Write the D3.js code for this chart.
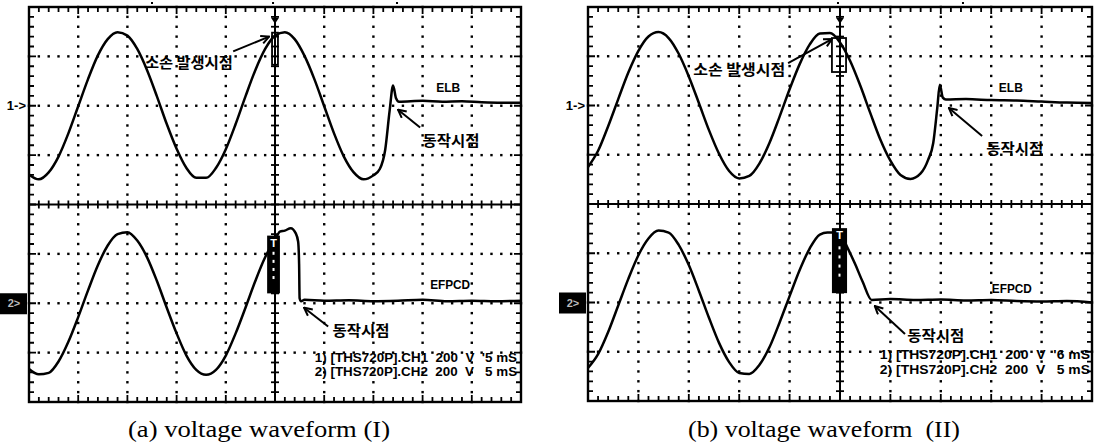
<!DOCTYPE html>
<html>
<head>
<meta charset="utf-8">
<title>voltage waveform (I) / (II)</title>
<script src="https://cdn.jsdelivr.net/npm/d3@7"></script>
<style>
  body { margin: 0; background: #fff; }
</style>
</head>
<body>
<div id="chart"></div>
<script>
// traces are [time (div), level (div)], screen is 10 x 8 div, centre = 0
// panel (a) - CH1 (ELB), CH2 (EFPCD)
var aCh1 = [[0,0.61],[0.2,0.51],[0.4,0.65],[0.6,0.97],[0.8,1.44],[1.0,1.99],[1.2,2.54],[1.4,3.02],[1.6,3.35],[1.8,3.49],
  [2.0,3.42],[2.2,3.15],[2.4,2.72],[2.6,2.19],[2.8,1.63],[3.0,1.13],[3.2,0.74],[3.4,0.54],[3.6,0.54],[3.8,0.74],
  [4.0,1.12],[4.2,1.63],[4.4,2.19],[4.6,2.72],[4.8,3.15],[5.0,3.42],[5.2,3.49],[5.4,3.35],[5.6,3.01],[5.8,2.54],
  [6.0,1.99],[6.2,1.44],[6.4,0.97],[6.6,0.65],[6.8,0.51],[7.0,0.59],[7.13,0.72],[7.24,1.11],[7.33,1.9],[7.40,2.41],
  [7.46,2.15],[7.52,2.08],[8.0,2.1],[8.4,2.08],[8.8,2.09],[9.2,2.07],[9.6,2.06],[10,2.06]];
var aCh2 = [[0,-3.33],[0.2,-3.44],[0.4,-3.41],[0.6,-3.18],[0.8,-2.78],[1.0,-2.28],[1.2,-1.74],[1.4,-1.23],[1.6,-0.83],[1.8,-0.6],
  [2.0,-0.56],[2.2,-0.73],[2.4,-1.07],[2.6,-1.55],[2.8,-2.09],[3.0,-2.61],[3.2,-3.06],[3.4,-3.35],[3.6,-3.45],[3.8,-3.35],
  [4.0,-3.06],[4.2,-2.61],[4.4,-2.09],[4.6,-1.55],[4.8,-1.07],[4.9,-0.88],[5.0,-0.73],[5.1,-0.55],[5.2,-0.53],[5.32,-0.48],
  [5.42,-0.58],[5.47,-0.75],[5.49,-1.2],[5.50,-1.9],[5.53,-1.96],[5.6,-1.93],[6.0,-1.95],[6.5,-1.94],[7.0,-1.96],[7.5,-1.95],
  [8.0,-1.93],[8.5,-1.96],[9.0,-1.95],[9.5,-1.96],[10,-1.95]];
// panel (b)
var bCh1 = [[0,0.75],[0.2,1.08],[0.4,1.58],[0.6,2.13],[0.8,2.67],[1.0,3.11],[1.2,3.40],[1.4,3.49],[1.6,3.37],[1.8,3.05],
  [2.0,2.59],[2.2,2.05],[2.4,1.50],[2.6,1.02],[2.8,0.67],[3.0,0.52],[3.2,0.57],[3.4,0.82],[3.6,1.24],[3.8,1.77],
  [4.0,2.33],[4.2,2.84],[4.4,3.24],[4.6,3.46],[4.8,3.47],[5.0,3.28],[5.2,2.91],[5.4,2.41],[5.6,1.85],[5.8,1.31],
  [6.0,0.88],[6.2,0.59],[6.4,0.51],[6.6,0.62],[6.75,0.9],[6.85,1.24],[6.93,1.95],[6.98,2.42],[7.04,2.16],[7.1,2.12],
  [7.5,2.13],[8.0,2.11],[8.5,2.1],[9.0,2.08],[9.5,2.06],[10,2.05]];
var bCh2 = [[0,-3.33],[0.2,-3.05],[0.4,-2.6],[0.6,-2.06],[0.8,-1.52],[1.0,-1.04],[1.2,-0.70],[1.4,-0.54],[1.6,-0.58],[1.8,-0.83],
  [2.0,-1.24],[2.2,-1.76],[2.4,-2.31],[2.6,-2.82],[2.8,-3.21],[3.0,-3.43],[3.2,-3.45],[3.4,-3.27],[3.6,-2.91],[3.8,-2.41],
  [4.0,-1.87],[4.2,-1.34],[4.4,-0.90],[4.6,-0.62],[4.75,-0.58],[4.9,-0.58],[5.0,-0.6],[5.14,-0.87],[5.3,-1.22],[5.45,-1.58],
  [5.63,-1.95],[6.0,-1.93],[6.5,-1.95],[7.0,-1.94],[7.5,-1.96],[8.0,-1.95],[8.5,-1.97],[9.0,-1.98],[9.5,-1.97],[10,-2.0]];

var captions = ["(a) voltage waveform (I)", "(b) voltage waveform  (II)"];
var chLabels = ["ELB", "EFPCD"];
var eventLabel = "소손 발생시점";
var tripLabel = "동작시점";
var infoA = ["1) [THS720P].CH1  200  V  '5 mS", "2) [THS720P].CH2  200  V   5 mS"];
var infoB = ["1) [THS720P].CH1  200  V  '6 mS", "2) [THS720P].CH2  200  V   5 mS"];
// cursor marks above the screen (time, div)
var marksA = [2.5, 4.96, 7.48];
var marksB = [4.96, 7.44];

var svg = d3.select("#chart").append("svg")
    .attr("width", 1097).attr("height", 443)
    .style("background", "#fff");

svg.append("defs").append("marker")
    .attr("id", "arr").attr("viewBox", "0 0 10 10")
    .attr("refX", 9).attr("refY", 5)
    .attr("markerWidth", 10).attr("markerHeight", 10)
    .attr("markerUnits", "userSpaceOnUse").attr("orient", "auto")
  .append("path").attr("d", "M1,1 L9,5 L1,9")
    .attr("fill", "none").attr("stroke", "#000").attr("stroke-width", 2);

var korean = "'Noto Sans CJK KR', sans-serif";
var latin = "'Liberation Sans', Arial, sans-serif";

function drawScope(p) {
    var x = d3.scaleLinear().domain([0, 10]).range([p.left, p.right]);
    var y = d3.scaleLinear().domain([-4, 4]).range([p.bottom, p.top]);
    var g = svg.append("g");

    var minorT = d3.range(0, 10.001, 0.2);
    var minorV = d3.range(-4, 4.001, 0.2);

    // dotted graticule
    var dots = [];
    [1, 2, 3, 4, 6, 7, 8, 9].forEach(function(t) {
        minorV.forEach(function(v) { dots.push([t, v]); });
    });
    [-3, -2, -1, 1, 2, 3].forEach(function(v) {
        minorT.forEach(function(t) { dots.push([t, v]); });
    });
    g.selectAll(".dot").data(dots).enter().append("rect")
        .attr("x", function(d) { return x(d[0]) - 1.2; })
        .attr("y", function(d) { return y(d[1]) - 1.2; })
        .attr("width", 2.4).attr("height", 2.4)
        .attr("fill", "#000");

    // centre axes with cross ticks
    g.append("line").attr("x1", x(5)).attr("x2", x(5)).attr("y1", y(4)).attr("y2", y(-4))
        .attr("stroke", "#000").attr("stroke-width", 2);
    g.append("line").attr("x1", x(0)).attr("x2", x(10)).attr("y1", y(0)).attr("y2", y(0))
        .attr("stroke", "#000").attr("stroke-width", 2.2);
    g.selectAll(".vt").data(minorV).enter().append("line")
        .attr("x1", x(5) - 4).attr("x2", x(5) + 4)
        .attr("y1", function(v) { return y(v); }).attr("y2", function(v) { return y(v); })
        .attr("stroke", "#000").attr("stroke-width", 1.8);
    g.selectAll(".ht").data(minorT).enter().append("line")
        .attr("y1", y(0) - 4).attr("y2", y(0) + 4)
        .attr("x1", function(t) { return x(t); }).attr("x2", function(t) { return x(t); })
        .attr("stroke", "#000").attr("stroke-width", 1.8);

    // border ticks
    function tlen(d) { return Math.abs(d - Math.round(d)) < 0.01 ? 7 : 5; }
    g.selectAll(".bt").data(minorT).enter().append("path")
        .attr("d", function(t) {
            return "M" + x(t) + "," + y(4) + "v" + tlen(t) + "M" + x(t) + "," + y(-4) + "v" + (-tlen(t));
        })
        .attr("stroke", "#000").attr("stroke-width", 1.8);
    g.selectAll(".bl").data(minorV).enter().append("path")
        .attr("d", function(v) {
            return "M" + x(0) + "," + y(v) + "h" + tlen(v) + "M" + x(10) + "," + y(v) + "h" + (-tlen(v));
        })
        .attr("stroke", "#000").attr("stroke-width", 1.8);

    g.append("rect").attr("x", x(0)).attr("y", y(4))
        .attr("width", x(10) - x(0)).attr("height", y(-4) - y(4))
        .attr("fill", "none").attr("stroke", "#000").attr("stroke-width", 2.4);

    // cursor marks above the screen
    g.selectAll(".mk").data(p.marks).enter().append("rect")
        .attr("x", function(t) { return x(t) - 1; }).attr("y", y(4) - 5)
        .attr("width", 2).attr("height", 2).attr("fill", "#000");

    // traces
    var line = d3.line()
        .x(function(d) { return x(d[0]); })
        .y(function(d) { return y(d[1]); })
        .curve(d3.curveMonotoneX);
    [p.ch1, p.ch2].forEach(function(tr) {
        g.append("path").datum(tr).attr("d", line)
            .attr("fill", "none").attr("stroke", "#000")
            .attr("stroke-width", 2.5).attr("stroke-linejoin", "round");
    });

    // trigger marker on CH1
    g.append("path")
        .attr("d", "M" + (x(5) - 4) + "," + y(3.78) + "h8l-4,6z")
        .attr("fill", "#000");
    g.append("rect").attr("x", x(p.trig1[0])).attr("y", y(p.trig1[3]))
        .attr("width", x(p.trig1[1]) - x(p.trig1[0])).attr("height", y(p.trig1[2]) - y(p.trig1[3]))
        .attr("fill", "none").attr("stroke", "#000").attr("stroke-width", 1.8);

    // trigger block on CH2
    g.append("rect").attr("x", x(p.trig2[0])).attr("y", y(p.trig2[3]))
        .attr("width", x(p.trig2[1]) - x(p.trig2[0])).attr("height", y(p.trig2[2]) - y(p.trig2[3]))
        .attr("fill", "#000");
    g.append("text").attr("x", (x(p.trig2[0]) + x(p.trig2[1])) / 2).attr("y", y(p.trig2[3]) + 11)
        .attr("text-anchor", "middle").attr("font-family", latin).attr("font-weight", "bold")
        .attr("font-size", 11).attr("fill", "#fff").text("T");
    g.selectAll(".td").data([0.28, 0.42, 0.56, 0.7]).enter().append("rect")
        .attr("x", (x(p.trig2[0]) + x(p.trig2[1])) / 2 - 1)
        .attr("y", function(f) { return y(p.trig2[3]) + f * (y(p.trig2[2]) - y(p.trig2[3])); })
        .attr("width", 2).attr("height", 3).attr("fill", "#fff");

    // channel references at the left
    g.append("text").attr("x", x(0) - 3).attr("y", y(2))
        .attr("text-anchor", "end").attr("dominant-baseline", "central")
        .attr("font-family", latin).attr("font-weight", "bold").attr("font-size", 13)
        .text("1->");
    g.append("rect").attr("x", x(0) - 29).attr("y", y(-2) - 10)
        .attr("width", 27).attr("height", 21).attr("fill", "#000");
    g.append("text").attr("x", x(0) - 15).attr("y", y(-2))
        .attr("text-anchor", "middle").attr("dominant-baseline", "central")
        .attr("font-family", latin).attr("font-weight", "bold").attr("font-size", 11)
        .attr("fill", "#bbb").text("2>");

    // labels and arrows
    function label(txt, pos, font, size, width) {
        var t = g.append("text").attr("x", x(pos[0])).attr("y", y(pos[1]))
            .attr("text-anchor", "middle").attr("dominant-baseline", "central")
            .attr("font-family", font).attr("font-weight", "bold").attr("font-size", size)
            .text(txt);
        if (width) t.attr("textLength", width).attr("lengthAdjust", "spacingAndGlyphs");
    }
    function arrow(a) {
        g.append("line").attr("x1", x(a[0])).attr("y1", y(a[1]))
            .attr("x2", x(a[2])).attr("y2", y(a[3]))
            .attr("stroke", "#000").attr("stroke-width", 2)
            .attr("marker-end", "url(#arr)");
    }
    label(eventLabel, p.eventPos, korean, 15, p.eventW);
    arrow(p.eventArrow);
    label(chLabels[0], p.elbPos, latin, 13, 24);
    label(tripLabel, p.trip1Pos, korean, 15, 57);
    arrow(p.trip1Arrow);
    label(chLabels[1], p.efpPos, latin, 13, 40);
    label(tripLabel, p.trip2Pos, korean, 15, 57);
    arrow(p.trip2Arrow);

    p.info.forEach(function(s, i) {
        g.append("text").attr("x", x(p.infoX[0])).attr("y", y(p.infoY[i]))
            .attr("dominant-baseline", "central").attr("xml:space", "preserve")
            .style("white-space", "pre")
            .attr("font-family", latin).attr("font-weight", "bold").attr("font-size", 12)
            .attr("textLength", x(p.infoX[1]) - x(p.infoX[0])).attr("lengthAdjust", "spacingAndGlyphs")
            .text(s);
    });

    svg.append("text").attr("x", (p.left + p.right) / 2 - 16).attr("y", 437)
        .attr("text-anchor", "middle").style("white-space", "pre")
        .attr("font-family", "'Liberation Serif', 'Times New Roman', serif")
        .attr("font-size", 23)
        .attr("textLength", p.capW).attr("lengthAdjust", "spacingAndGlyphs")
        .text(p.caption);
}

drawScope({
    left: 29, right: 521, top: 7, bottom: 402,
    ch1: aCh1, ch2: aCh2, marks: marksA,
    trig1: [4.94, 5.06, 2.83, 3.48], trig2: [4.84, 5.10, -1.80, -0.63],
    eventPos: [3.25, 2.9], eventW: 88, eventArrow: [4.15, 3.10, 4.88, 3.40],
    elbPos: [8.52, 2.37],
    trip1Pos: [8.58, 1.32], trip1Arrow: [7.95, 1.56, 7.50, 1.92],
    efpPos: [8.56, -1.62],
    trip2Pos: [6.75, -2.53], trip2Arrow: [6.08, -2.47, 5.59, -2.09],
    info: infoA, infoX: [5.81, 9.92], infoY: [-3.10, -3.40],
    caption: captions[0], capW: 262
});
drawScope({
    left: 588, right: 1092, top: 7, bottom: 401,
    ch1: bCh1, ch2: bCh2, marks: marksB,
    trig1: [4.84, 5.12, 2.68, 3.37], trig2: [4.84, 5.14, -1.81, -0.49],
    eventPos: [3.0, 2.76], eventW: 92, eventArrow: [3.97, 2.86, 4.84, 3.35],
    elbPos: [8.39, 2.36],
    trip1Pos: [8.47, 1.14], trip1Arrow: [7.82, 1.38, 7.16, 1.95],
    efpPos: [8.41, -1.71],
    trip2Pos: [6.9, -2.64], trip2Arrow: [6.29, -2.64, 5.69, -2.07],
    info: infoB, infoX: [5.79, 9.96], infoY: [-3.07, -3.37],
    caption: captions[1], capW: 272
});
</script>
</body>
</html>
